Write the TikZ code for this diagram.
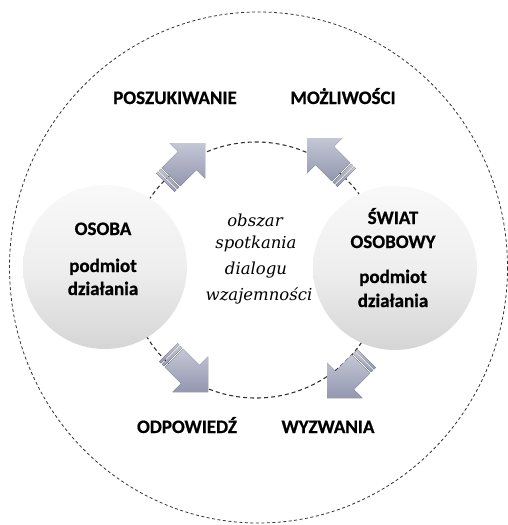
\documentclass[tikz,border=0pt]{standalone}
\usepackage{fontspec}
\setmainfont{Carlito}
\newfontfamily\heavyfont{Carlito Bold}[FakeBold=0.7]
\newfontfamily\centerfont{DejaVu Serif}
\definecolor{arrowA}{HTML}{9397AF}
\definecolor{arrowB}{HTML}{C4C7D5}
\definecolor{lineC}{HTML}{333333}
\tikzset{
  outerdash/.style={draw=lineC, line width=0.8pt, dash pattern=on 3pt off 2.5pt},
  innerdash/.style={draw=lineC, line width=1.1pt, dash pattern=on 4pt off 3pt},
  agent/.style={circle, minimum size=164pt, inner sep=0pt,
    top color=gray!5, bottom color=gray!33, middle color=gray!13},
  caps/.style={font=\heavyfont\fontsize{19}{19}\selectfont, inner sep=0pt, anchor=base},
  ital/.style={font=\centerfont\itshape\fontsize{16.5}{20}\selectfont, inner sep=0pt, anchor=base},
  arrowfill/.style={top color=arrowB, bottom color=arrowA},
  blockarrow/.pic={
    \fill[arrowfill] (-48,-13) -- (-25,-13) -- (-25,-25) -- (0,0) -- (-25,25)
      -- (-25,13) -- (-48,13) -- cycle;
    \fill[arrowfill] (-56,-13) rectangle (-53.5,13);
    \fill[arrowfill] (-52,-13) rectangle (-49.5,13);
  }
}
\begin{document}
\begin{tikzpicture}[x=1pt,y=-1pt]
\fill[white] (0,0) rectangle (508,525);
\useasboundingbox (0,0) rectangle (508,525);
% outer and inner dashed circles
\draw[outerdash] (258.5,267.5) ellipse [x radius=249, y radius=255.5];
\draw[innerdash] (256,270) circle [radius=128];
% agents
\node[agent] (osoba) at (105,267) {};
\node[agent] (swiat) at (395,268) {};
% block arrows
\pic[rotate=45] at (205,143) {blockarrow};
\pic[rotate=135] at (307,138) {blockarrow};
\pic[rotate=-45] at (208,392) {blockarrow};
\pic[rotate=-135] at (327,398) {blockarrow};
% texts in circles
\node[caps] (t1) at (103,235) {OSOBA};
\node[caps] (t2) at (103,272) {podmiot};
\node[caps] (t3) at (103,295) {działania};
\node[caps] (t4) at (393,224) {ŚWIAT};
\node[caps] (t5) at (393,248) {OSOBOWY};
\node[caps] (t6) at (393,283) {podmiot};
\node[caps] (t7) at (393,307) {działania};
% outer labels
\node[caps] (l1) at (175,104) {POSZUKIWANIE};
\node[caps] (l2) at (343,104) {MOŻLIWOŚCI};
\node[caps] (l3) at (187,433) {ODPOWIEDŹ};
\node[caps] (l4) at (328,433) {WYZWANIA};
% centre text
\node[ital] (c1) at (255,226) {obszar};
\node[ital] (c2) at (256,248) {spotkania};
\node[ital] (c3) at (256,274) {dialogu};
\node[ital] (c4) at (259,300) {wzajemności};
\end{tikzpicture}
\end{document}
